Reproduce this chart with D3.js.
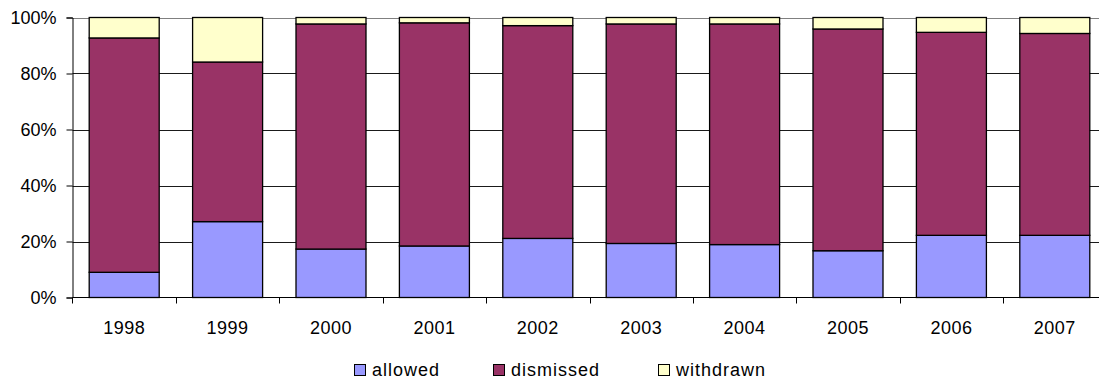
<!DOCTYPE html>
<html>
<head>
<meta charset="utf-8">
<script src="https://cdn.jsdelivr.net/npm/d3@7"></script>
<style>
  html, body { margin: 0; padding: 0; background: #fff; }
  svg { display: block; font-family: "Liberation Sans", Arial, sans-serif; }
</style>
</head>
<body>
<svg id="chart" width="1099" height="379"></svg>
<script>
// Appeal outcomes per year, as percentage shares of all appeals
const years = ["1998", "1999", "2000", "2001", "2002", "2003", "2004", "2005", "2006", "2007"];
const allowed   = [9.0, 27.1, 17.3, 18.4, 21.1, 19.3, 18.9, 16.7, 22.2, 22.2];
const dismissed = [83.7, 57.0, 80.4, 79.7, 76.0, 78.4, 78.8, 79.2, 72.5, 72.1];
const withdrawn = [7.3, 15.9, 2.3, 1.9, 2.9, 2.3, 2.3, 4.1, 5.3, 5.7];
const seriesNames = ["allowed", "dismissed", "withdrawn"];
const seriesColors = ["#9999FF", "#993366", "#FFFFCC"];
const yTicks = [0, 20, 40, 60, 80, 100];

const rows = years.map((yr, i) => ({
  year: yr, allowed: allowed[i], dismissed: dismissed[i], withdrawn: withdrawn[i]
}));

const svg = d3.select("#chart");
const plotLeft = 72.5, plotRight = 1106.5, plotTop = 17.5, plotBottom = 297.5;

const x = d3.scaleBand().domain(years).range([plotLeft, plotRight])
  .paddingInner(0.323).paddingOuter(0.1615);
const y = d3.scaleLinear().domain([0, 100]).range([plotBottom, plotTop]);
const color = d3.scaleOrdinal().domain(seriesNames).range(seriesColors);

// horizontal gridlines
svg.append("g").selectAll("line").data(yTicks.filter(t => t > 0)).join("line")
  .attr("x1", plotLeft).attr("x2", plotRight)
  .attr("y1", d => Math.round(y(d)) + 0.5).attr("y2", d => Math.round(y(d)) + 0.5)
  .attr("stroke", d => d === 100 ? "#808080" : "#1a1a1a").attr("stroke-width", 1);

// stacked bars
const stacked = d3.stack().keys(seriesNames)(rows);
svg.append("g").selectAll("g").data(stacked).join("g")
  .attr("fill", d => color(d.key))
  .selectAll("rect").data(d => d).join("rect")
  .attr("x", d => x(d.data.year))
  .attr("width", x.bandwidth())
  .attr("y", d => y(d[1]))
  .attr("height", d => y(d[0]) - y(d[1]))
  .attr("stroke", "#000").attr("stroke-width", 1.3);

// y axis
const yAxis = svg.append("g").attr("transform", `translate(${plotLeft},0)`)
  .call(d3.axisLeft(y).tickValues(yTicks).tickFormat(d => d + "%").tickSize(6).tickPadding(10));
yAxis.select(".domain").attr("stroke", "#000");
yAxis.selectAll(".tick line").attr("stroke", "#000");
yAxis.selectAll("text").attr("font-size", 18).attr("fill", "#000")
  .attr("font-family", "Liberation Sans, Arial, sans-serif");

// x axis with ticks at category boundaries
const xAxisG = svg.append("g").attr("transform", `translate(0,${plotBottom})`);
xAxisG.append("line").attr("x1", plotLeft).attr("x2", plotRight).attr("stroke", "#000");
const bounds = years.map(yr => x(yr) - x.step() * x.paddingOuter());
xAxisG.selectAll("line.tk").data(bounds).join("line").attr("class", "tk")
  .attr("x1", d => Math.round(d) + 0.5).attr("x2", d => Math.round(d) + 0.5)
  .attr("y1", 0).attr("y2", 6).attr("stroke", "#000");
xAxisG.selectAll("text").data(years).join("text")
  .attr("x", d => x(d) + x.bandwidth() / 2)
  .attr("y", 36.5)
  .attr("text-anchor", "middle")
  .attr("font-size", 18).attr("letter-spacing", 0.5).attr("fill", "#000")
  .text(d => d);

// legend
const legendX = [354, 493, 658];
const lg = svg.append("g").selectAll("g").data(seriesNames).join("g")
  .attr("transform", (d, i) => `translate(${legendX[i]},364)`);
lg.append("rect").attr("x", 0.5).attr("y", 0.5).attr("width", 11).attr("height", 11)
  .attr("fill", d => color(d)).attr("stroke", "#000").attr("stroke-width", 1);
lg.append("text").attr("x", 18).attr("y", 12)
  .attr("font-size", 18).attr("letter-spacing", 1).attr("fill", "#000")
  .text(d => d);
</script>
</body>
</html>
